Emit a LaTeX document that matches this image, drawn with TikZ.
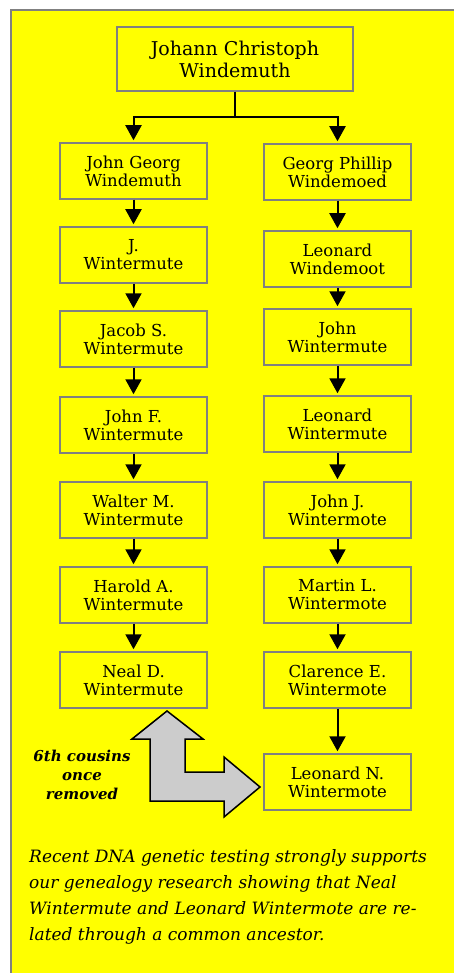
\documentclass[tikz,border=0pt]{standalone}
\usepackage{fontspec}
\setmainfont{DejaVu Serif}
\usetikzlibrary{arrows.meta}
\definecolor{bgyellow}{HTML}{FFFF00}
\definecolor{framegray}{HTML}{808080}
\definecolor{arrowgray}{HTML}{CCCCCC}
\begin{document}
\begin{tikzpicture}[x=1pt,y=-1pt,
  person/.style={draw=framegray, line width=1.5pt, fill=bgyellow,
    minimum width=147pt, minimum height=56pt, inner sep=0pt, align=center,
    font=\fontsize{16.5}{18}\selectfont},
  conn/.style={line width=2pt, -{Triangle[width=16pt,length=15pt]}, shorten >=2pt},
  bigarrow/.style={draw=black, line width=1.5pt, fill=arrowgray, line join=miter},
  relnote/.style={align=center, inner sep=0pt, font=\fontsize{15}{19}\selectfont\bfseries\itshape},
  footnote/.style={align=left, inner sep=0pt, font=\fontsize{17}{25.7}\selectfont\itshape}]
\useasboundingbox (0,0) rectangle (454,973);
\fill[white] (0,0) rectangle (454,973);
\begin{scope}
  \clip (0,0) rectangle (454,973);
  \draw[framegray, line width=2pt, fill=bgyellow] (11,10) rectangle (470,990);
\end{scope}

\node[person, minimum width=236pt, minimum height=64pt, font=\fontsize{19}{22}\selectfont] (top) at (235,59) {Johann Christoph\\Windemuth};

% left column
\node[person] (L1) at (133.5,171) {John Georg\\Windemuth};
\node[person] (L2) at (133.5,255) {J.\\Wintermute};
\node[person] (L3) at (133.5,339) {Jacob S.\\Wintermute};
\node[person] (L4) at (133.5,425) {John F.\\Wintermute};
\node[person] (L5) at (133.5,510) {Walter M.\\Wintermute};
\node[person] (L6) at (133.5,595) {Harold A.\\Wintermute};
\node[person] (L7) at (133.5,680) {Neal D.\\Wintermute};

% right column
\node[person] (R1) at (337.5,172) {Georg Phillip\\Windemoed};
\node[person] (R2) at (337.5,259) {Leonard\\Windemoot};
\node[person] (R3) at (337.5,337) {John\\Wintermute};
\node[person] (R4) at (337.5,424) {Leonard\\Wintermute};
\node[person] (R5) at (337.5,510) {John J.\\Wintermote};
\node[person] (R6) at (337.5,595) {Martin L.\\Wintermote};
\node[person] (R7) at (337.5,680) {Clarence E.\\Wintermote};
\node[person] (R8) at (337.5,782) {Leonard N.\\Wintermote};

% branch
\draw[line width=2pt] (top.south) -- ++(0,25) coordinate (br);
\draw[conn] (br) -| (L1.north);
\draw[conn] (br) -| (R1.north);

\foreach \a/\b in {L1/L2,L2/L3,L3/L4,L4/L5,L5/L6,L6/L7,
                   R1/R2,R2/R3,R3/R4,R4/R5,R5/R6,R6/R7,R7/R8}
  \draw[conn] (\a.south) -- (\b.north);

% relationship arrow
\draw[bigarrow] (167,711) -- (203,739) -- (185,739) -- (185,772) -- (224,772)
  -- (224,757) -- (260,787) -- (224,817) -- (224,801) -- (150,801)
  -- (150,739) -- (132,739) -- cycle;

\node[relnote] (rel) at (82,775) {6th cousins\\once\\removed};

\node[footnote, anchor=base west] (note) at (29,940)
  {Recent DNA genetic testing strongly supports\\
   our genealogy research showing that Neal\\
   Wintermute and Leonard Wintermote are re-\\
   lated through a common ancestor.};
\end{tikzpicture}
\end{document}
